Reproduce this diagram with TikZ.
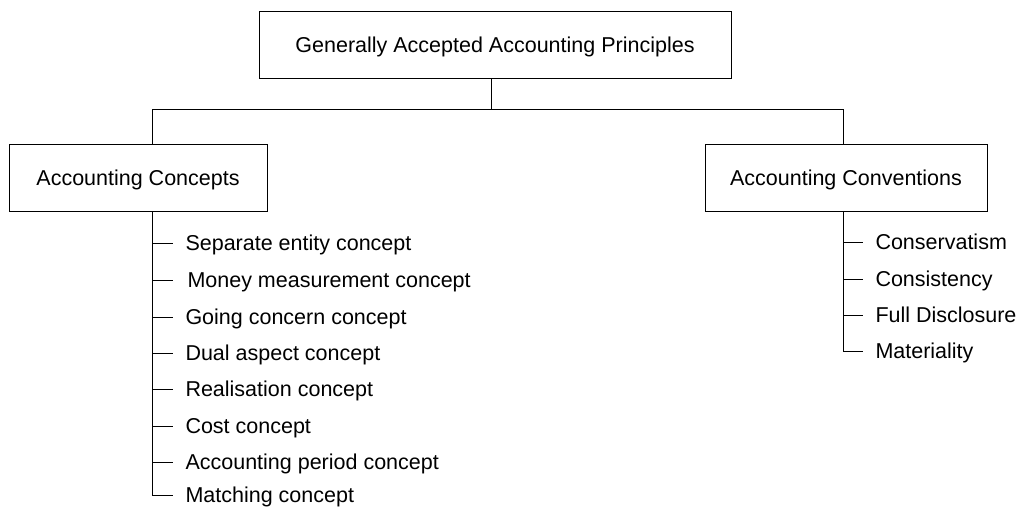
\documentclass[tikz,border=0pt]{standalone}
\usepackage{fontspec}
\setmainfont{Liberation Sans}
\begin{document}
\begin{tikzpicture}[x=1pt,y=-1pt,line width=1pt,
  txt/.style={font=\fontsize{21.5}{26}\selectfont, text height=15.4pt, text depth=0pt},
  box/.style={txt, draw, minimum height=67pt, inner sep=0pt},
  item/.style={txt, anchor=west, inner xsep=12pt, inner ysep=0pt}]
\useasboundingbox (0,0) rectangle (1019,506);
\node[box, minimum width=472pt] (top) at (495,44.5) {Generally Accepted Accounting Principles};
\node[box, minimum width=258pt] (lc) at (138,177.5) {Accounting Concepts};
\node[box, minimum width=282pt] (rc) at (846,177.5) {Accounting Conventions};
\coordinate (j) at (491.5,109);
\coordinate (jl) at (152,109);
\coordinate (jr) at (843,109);
\draw (top.south -| j) -- (j);
\draw (jl) -- (jr);
\draw (jl) -- (lc.north -| jl);
\draw (jr) -- (rc.north -| jr);
% left items
\node[item] (l1) at (173,243) {Separate entity concept};
\node[item, inner xsep=14pt] (l2) at (173,280) {Money measurement concept};
\node[item] (l3) at (173,317) {Going concern concept};
\node[item] (l4) at (173,353) {Dual aspect concept};
\node[item] (l5) at (173,389) {Realisation concept};
\node[item] (l6) at (173,426) {Cost concept};
\node[item] (l7) at (173,462) {Accounting period concept};
\node[item] (l8) at (173,495) {Matching concept};
\draw (lc.south -| jl) |- (l8.west);
\foreach \n in {l1,l2,l3,l4,l5,l6,l7} \draw (\n.west -| jl) -- (\n.west);
% right items
\node[item] (r1) at (863,242) {Conservatism};
\node[item] (r2) at (863,279) {Consistency};
\node[item] (r3) at (863,315) {Full Disclosure};
\node[item] (r4) at (863,351) {Materiality};
\draw (rc.south -| jr) |- (r4.west);
\foreach \n in {r1,r2,r3} \draw (\n.west -| jr) -- (\n.west);
\end{tikzpicture}
\end{document}
